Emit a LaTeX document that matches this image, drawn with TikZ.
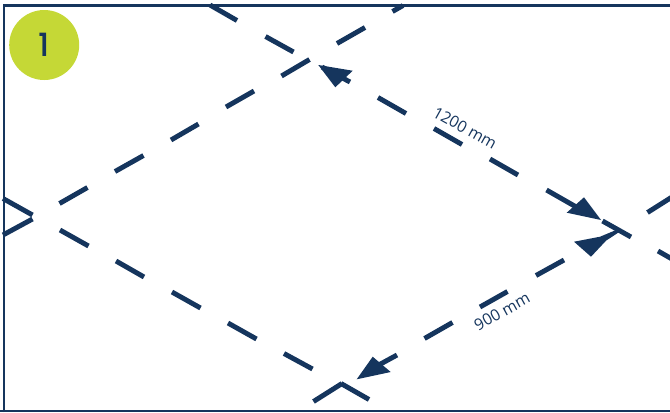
\documentclass[tikz,border=0pt]{standalone}
\usepackage{fontspec}
\setmainfont{Open Sans}
\newfontfamily\badgefont{Poppins Medium}
\definecolor{navy}{HTML}{15355D}
\definecolor{lime}{HTML}{C5D836}
\tikzset{
  dashseg/.style={draw=navy,line width=3.7pt,line cap=butt},
  framing/.style={draw=navy,line width=2pt},
  headfill/.style={fill=navy,draw=none},
  badge/.style={circle,fill=lime,draw=none,minimum size=52.5pt,inner sep=0pt},
  badgetext/.style={text=navy,font=\badgefont\fontsize{24}{24}\selectfont},
  dimlabel/.style={text=navy,inner sep=0pt,font=\fontsize{11.9}{12}\selectfont}
}
\begin{document}
\begin{tikzpicture}[x=0.75pt,y=-0.75pt]
\useasboundingbox (0,0) rectangle (670,412);
\clip (0,0) rectangle (670,412);
% frame
\draw[framing] (4,412) -- (4,5.5) -- (670,5.5);
\draw[framing] (0,411) -- (670,411);
% upper-right edge going down-right
\foreach \a/\b/\c/\d in {
  210/5/237/20.5, 265.5/36.5/293.5/52, 322/67/350/82, 378/97.5/406/113.5,
  434/128.5/462/144.5, 490/159/518/175, 546.5/190/585/212, 602.5/221/631/237,
  658/251/672/259,
  % lower-left edge going down-right
  60/230/88.5/246, 116/261/144/277, 172/292/200.5/308, 228/323/256.5/339,
  284/353.5/312.5/369, 3/198.5/32.5/215,
  % upper-left edge going up-right
  59.5/203.5/87.5/187.5, 115/171.5/143.5/155.5, 171/140/198.5/124,
  226/107/254/91, 281.5/76/309.5/59.5, 337/43.5/365/27.5, 392.5/11.5/403/5.5,
  3/235/32.5/219,
  % lower-right edge going down-left
  672/197/647.5/212.5, 564/260/536/275.5, 507.5/291.5/480/307, 452.5/322.5/424.5/338.5,
  397/355/375/367,
  % bottom apex
  342/383.5/313.5/401.5, 341/383.5/369/399.5}
  {\draw[dashseg] (\a,\b) -- (\c,\d);}
% arrowheads
\fill[headfill] (318.3,65) -- (352.7,70.7) -- (335.3,87.3) -- cycle;
\fill[headfill] (601,220) -- (584,197.3) -- (566.7,212.7) -- cycle;
\fill[headfill] (356.7,379.3) -- (372.7,356.7) -- (390.7,372) -- cycle;
\fill[headfill] (618.5,229) -- (620,231.5) -- (606,240.7) -- (591,256.7) -- (574,241.7) -- (600,236.7) -- cycle;
% badge
\node[badge] (badge) at (44.2,45) {};
\node[badgetext] (badgenum) at (44,45) {1};
% labels
\node[dimlabel,rotate=-29] (lenlabel) at (465,128) {1200 mm};
\node[dimlabel,rotate=29] (widlabel) at (502,311.5) {900 mm};
\end{tikzpicture}
\end{document}
